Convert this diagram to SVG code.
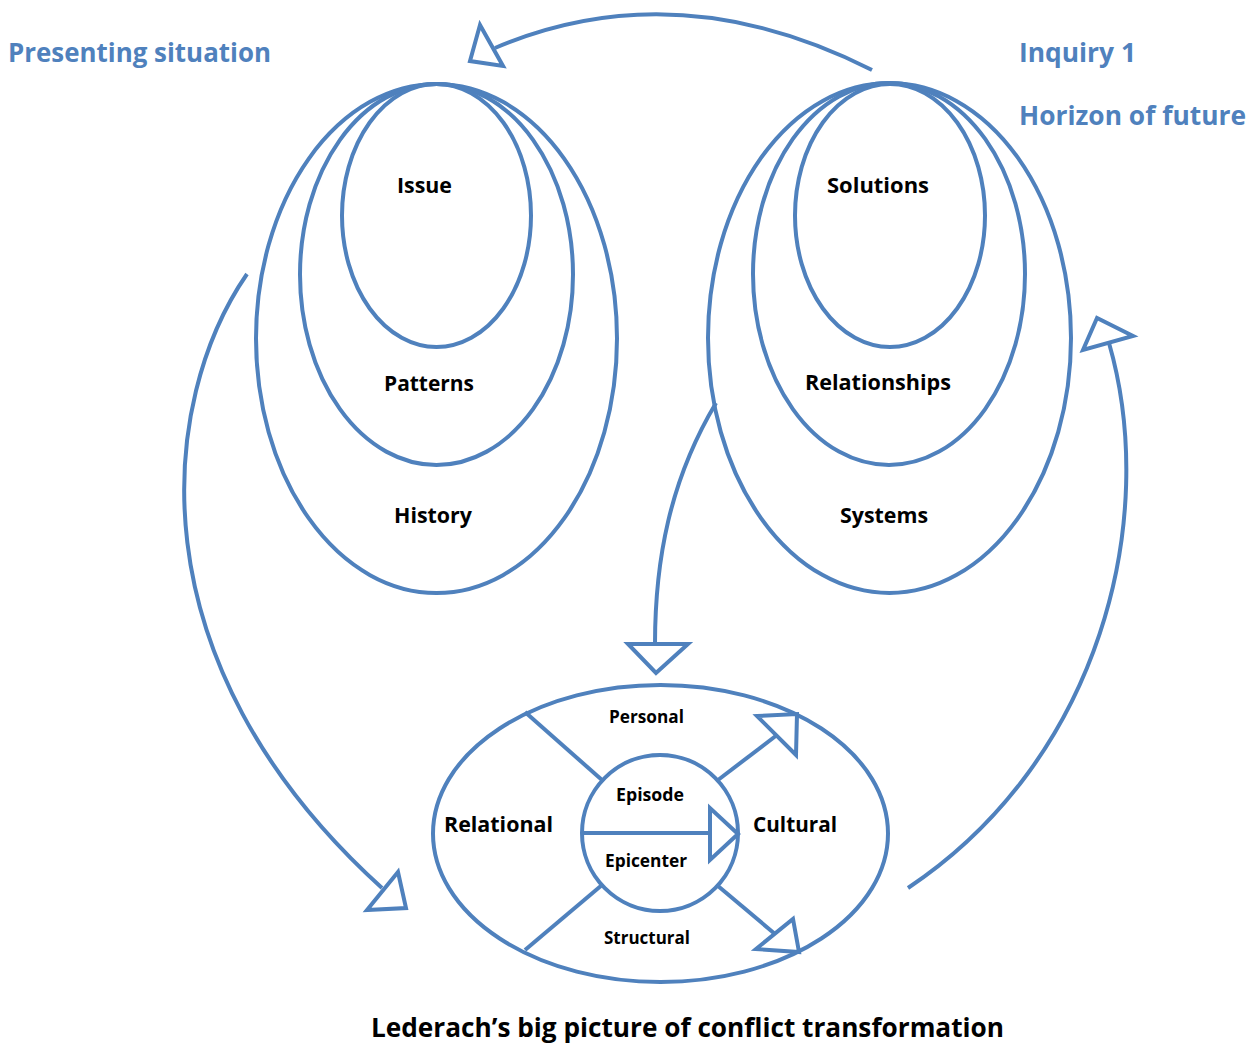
<svg xmlns="http://www.w3.org/2000/svg" width="1255" height="1045" viewBox="0 0 1255 1045">
<style>
.ln{fill:none;stroke:#4f81bd;stroke-width:4}
.ah{fill:#ffffff;stroke:#4f81bd;stroke-width:4;stroke-linejoin:miter}
.t{font-family:"Open Sans","Liberation Sans",sans-serif;font-weight:700;fill:#000000}
.b{font-family:"Open Sans","Liberation Sans",sans-serif;font-weight:700;fill:#4f81bd}
</style>
<rect width="1255" height="1045" fill="#ffffff"/>
<text class="b" x="8" y="62" font-size="27" textLength="263" lengthAdjust="spacingAndGlyphs">Presenting situation</text>
<text class="b" x="1019" y="62" font-size="27" textLength="117" lengthAdjust="spacingAndGlyphs">Inquiry 1</text>
<text class="b" x="1019" y="125" font-size="27" textLength="227" lengthAdjust="spacingAndGlyphs">Horizon of future</text>
<g id="left-set">
<ellipse class="ln" cx="436.5" cy="338.5" rx="180.5" ry="254.5"/>
<ellipse class="ln" cx="436.5" cy="274.5" rx="136.5" ry="190.5"/>
<ellipse class="ln" cx="436.5" cy="215.5" rx="94.5" ry="131.5"/>
<text class="t" x="397" y="193" font-size="22" textLength="55" lengthAdjust="spacingAndGlyphs">Issue</text>
<text class="t" x="384" y="391" font-size="22" textLength="90" lengthAdjust="spacingAndGlyphs">Patterns</text>
<text class="t" x="394" y="523" font-size="22" textLength="78" lengthAdjust="spacingAndGlyphs">History</text>
</g>
<g id="right-set">
<ellipse class="ln" cx="889.5" cy="338" rx="181.5" ry="255"/>
<ellipse class="ln" cx="889" cy="274" rx="136" ry="191"/>
<ellipse class="ln" cx="890" cy="215.5" rx="95" ry="131.5"/>
<text class="t" x="827" y="193" font-size="22" textLength="102" lengthAdjust="spacingAndGlyphs">Solutions</text>
<text class="t" x="805" y="390" font-size="22" textLength="146" lengthAdjust="spacingAndGlyphs">Relationships</text>
<text class="t" x="840" y="523" font-size="22" textLength="88" lengthAdjust="spacingAndGlyphs">Systems</text>
</g>
<g id="bottom-set">
<ellipse class="ln" cx="660.5" cy="833.5" rx="227.5" ry="148.5"/>
<circle class="ln" cx="660" cy="833" r="78"/>
<line class="ln" x1="525" y1="712" x2="602" y2="780"/>
<line class="ln" x1="525" y1="950" x2="602" y2="885"/>
<text class="t" x="609" y="723" font-size="17" textLength="75" lengthAdjust="spacingAndGlyphs">Personal</text>
<text class="t" x="616" y="801" font-size="17" textLength="68" lengthAdjust="spacingAndGlyphs">Episode</text>
<text class="t" x="605" y="867" font-size="17" textLength="82" lengthAdjust="spacingAndGlyphs">Epicenter</text>
<text class="t" x="604" y="944" font-size="17" textLength="86" lengthAdjust="spacingAndGlyphs">Structural</text>
<text class="t" x="444" y="832" font-size="22" textLength="109" lengthAdjust="spacingAndGlyphs">Relational</text>
<text class="t" x="753" y="832" font-size="22" textLength="84" lengthAdjust="spacingAndGlyphs">Cultural</text>
</g>
<g id="connectors">
<path class="ln" d="M872,70 Q676,-29 495,48"/>
<polygon class="ah" points="480,25 470,61 503,66"/>
<path class="ln" d="M247,274 C160,400 130,660 382,888"/>
<polygon class="ah" points="398,872 367,910 406,908"/>
<path class="ln" d="M908,888 C1100,760 1160,520 1109,343"/>
<polygon class="ah" points="1097,318 1083,350 1133,336"/>
<path class="ln" d="M716,403 C670,480 655,560 655,644"/>
<polygon class="ah" points="628,644 688,644 656,673"/>
<line class="ln" x1="718" y1="780" x2="777" y2="735"/>
<polygon class="ah" points="757,716 797,714 796,755"/>
<line class="ln" x1="718" y1="886" x2="775" y2="934"/>
<polygon class="ah" points="756,949 793,919 799,952"/>
<line class="ln" x1="583" y1="833" x2="710" y2="833"/>
<polygon class="ah" points="710,808 710,860 738,834"/>
</g>
<text class="t" x="371" y="1037" font-size="27" textLength="633" lengthAdjust="spacingAndGlyphs">Lederach’s big picture of conflict transformation</text>
</svg>
